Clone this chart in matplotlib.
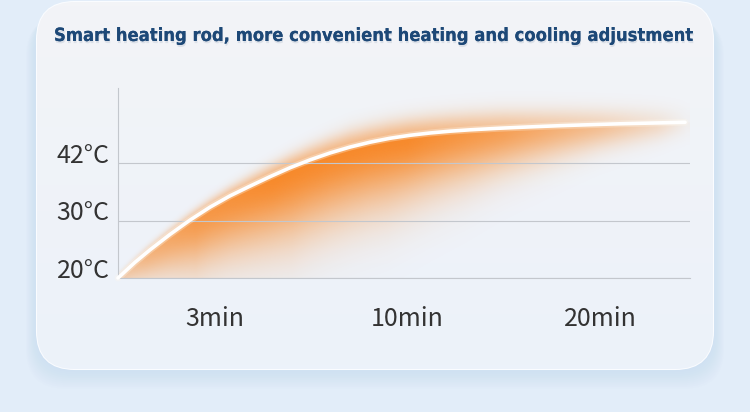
import numpy as np
import matplotlib
matplotlib.use('Agg')
import matplotlib.pyplot as plt
from matplotlib.patches import FancyBboxPatch
import matplotlib.patheffects as pe

title = 'Smart heating rod, more convenient heating and cooling adjustment'
temp_labels = ['20°C', '30°C', '42°C']
temp_levels = [0, 1, 2]
time_labels = ['3min', '10min', '20min']
time_slots = [0.5, 1.5, 2.5]

# heating curve: x in time slots, y in temperature levels
curve_x = [0, 0.088, 0.166, 0.269, 0.373, 0.477, 0.580, 0.684, 0.788, 0.891, 0.995,
           1.098, 1.202, 1.306, 1.409, 1.513, 1.617, 1.720, 1.824, 1.979,
           2.135, 2.290, 2.446, 2.601, 2.757, 2.938]
curve_y = [0, 0.273, 0.490, 0.757, 1.007, 1.233, 1.428, 1.598, 1.763, 1.917, 2.054,
           2.174, 2.277, 2.362, 2.430, 2.482, 2.522, 2.553, 2.577, 2.605,
           2.628, 2.649, 2.666, 2.682, 2.694, 2.708]

W, H = 750, 412
fig = plt.figure(figsize=(7.5, 4.12), dpi=100)
fig.patch.set_facecolor('#e2edf9')

# background card
bg = fig.add_axes([0, 0, 1, 1])
bg.set_xlim(0, W)
bg.set_ylim(H, 0)
bg.axis('off')
for i in range(12):
    sh = FancyBboxPatch((37 - i, 8 + i * 0.8), 676 + 2 * i, 361 + i, boxstyle='round,pad=0,rounding_size=40',
                        fc='#bcd3f2', ec='none', alpha=0.045)
    bg.add_patch(sh)
card = FancyBboxPatch((37, 2), 676, 367, boxstyle='round,pad=0,rounding_size=38',
                      fc='#eef2f8', ec='#fafcff', lw=1.5)
bg.add_patch(card)
grad = np.linspace(0, 1, 100)[:, None, None]
top_c = np.array([243, 244, 247]) / 255
bot_c = np.array([236, 242, 250]) / 255
img = np.ones((100, 2, 3)) * (top_c * (1 - grad) + bot_c * grad)
im = bg.imshow(img, extent=(37, 713, 369, 2), aspect='auto', zorder=2)
im.set_clip_path(card)
bg.set_xlim(0, W)
bg.set_ylim(H, 0)

ttl = fig.text(373 / W, 1 - 41 / H, title, ha='center', va='baseline', fontsize=15, fontweight='bold',
               fontstretch='condensed', color='#1d4877', family='DejaVu Sans',
               path_effects=[pe.withSimplePatchShadow(offset=(0.5, -1.5), shadow_rgbFace='#8a9bb0', alpha=0.22),
                             pe.Normal()])
# fit the title to the width it has in the picture
r = fig.canvas.get_renderer()
w = ttl.get_window_extent(r).width
ttl.set_fontsize(15 * 640 / w)

# chart area
xmax = 572 / 193
ymax = 190 / 57.5
ax = fig.add_axes([118 / W, 1 - 278 / H, 572 / W, 190 / H])
ax.patch.set_alpha(0)

# orange glow under the curve
xs = np.linspace(0, xmax, 600)
ys = np.linspace(0, ymax, 260)
X, Y = np.meshgrid(xs, ys)
cy = np.interp(xs, curve_x, curve_y)[None, :]
d = cy - Y
A = np.interp(xs, [0, 0.15, 0.4, 0.8, 1.5, 2.0, 2.5, 2.8, 2.95],
              [0.35, 0.6, 0.85, 1.0, 1.0, 0.8, 0.5, 0.25, 0.05])[None, :]
D = np.interp(xs, [0, 0.1, 0.4, 0.9, 1.4, 1.8, 2.0, 2.5, 2.9],
              [0.2, 0.4, 0.9, 1.2, 1.1, 0.85, 0.7, 0.4, 0.25])[None, :]
U = np.interp(xs, [0, 0.5, 1.2, 2.0, 2.9], [0.08, 0.15, 0.28, 0.3, 0.25])[None, :]
alpha = np.where(d >= 0, A * np.exp(-(d / D) ** 2), A * 0.55 * np.exp(-(d / U) ** 2))
rgba = np.zeros((len(ys), len(xs), 4))
rgba[..., 0] = 248 / 255
rgba[..., 1] = 134 / 255
rgba[..., 2] = 36 / 255
rgba[..., 3] = np.clip(alpha, 0, 1) * 0.97
ax.imshow(rgba, extent=(0, xmax, 0, ymax), origin='lower', aspect='auto', interpolation='bilinear', zorder=1)

ax.plot(curve_x, curve_y, color='#fff8ec', lw=5, alpha=0.3, solid_capstyle='round', zorder=2, clip_on=False)
ax.plot(curve_x, curve_y, color='white', lw=2.6, solid_capstyle='round', solid_joinstyle='round',
        zorder=3, clip_on=False)

ax.set_xlim(0, xmax)
ax.set_ylim(0, ymax)
ax.set_yticks(temp_levels)
ax.set_yticklabels(temp_labels)
ax.set_xticks(time_slots)
ax.set_xticklabels(time_labels)
ax.yaxis.grid(True, color='#c3c7cd', lw=0.8)
for s in ['top', 'right']:
    ax.spines[s].set_visible(False)
for s in ['left', 'bottom']:
    ax.spines[s].set_color('#c3c7cd')
    ax.spines[s].set_linewidth(0.8)
ax.tick_params(length=0, labelsize=18, labelcolor='#333333')
ax.tick_params(axis='y', pad=6)
ax.tick_params(axis='x', pad=20)
for lab in ax.get_yticklabels() + ax.get_xticklabels():
    lab.set_family(['Noto Sans CJK SC', 'DejaVu Sans'])
    lab.set_weight('light')
for lab in ax.get_yticklabels():
    lab.set_va('baseline')

fig.savefig('out.png', dpi=100)
